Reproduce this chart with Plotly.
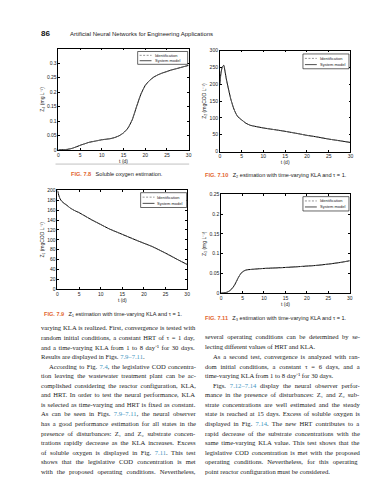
import re
import plotly.graph_objects as go

W, H = 389, 480

# ---------------- data ----------------
t_z4 = [0, 1, 2, 3, 4, 5, 6, 7, 8, 9, 10, 11, 12, 13, 14, 15, 16, 17, 18, 19, 20,
        21, 22, 23, 24, 25, 26, 27, 28, 29, 30]
z4 = [0.002, 0.002, 0.003, 0.006, 0.011, 0.017, 0.022, 0.027, 0.030, 0.033, 0.036,
      0.038, 0.040, 0.044, 0.050, 0.060, 0.076, 0.105, 0.150, 0.193, 0.223,
      0.240, 0.252, 0.260, 0.266, 0.271, 0.276, 0.280, 0.284, 0.288, 0.292]

t_z2 = [0, 0.3, 0.6, 0.9, 1.2, 1.5, 2, 2.5, 3, 3.5, 4, 4.5, 5, 6, 7, 8, 10, 12, 15,
        18, 20, 22, 25, 28, 30]
z2 = [200, 236, 252, 256, 238, 215, 185, 157, 135, 118, 106, 99, 94, 84, 78, 75,
      70, 66, 60, 53, 48, 44, 37, 31, 27]

t_z1 = [0, 0.3, 0.6, 1, 1.5, 2, 3, 4, 5, 6, 8, 10, 12, 15, 18, 20, 22, 25, 28, 30]
z1 = [200, 190, 183, 178, 174, 171, 164, 159, 155, 150, 140, 131, 122, 111, 100,
      93, 86, 73, 59, 50]

t_z3 = [0, 1, 1.5, 2, 2.5, 3, 3.5, 4, 4.5, 5, 5.5, 6, 7, 8, 10, 12, 15, 18, 20, 22,
        25, 28, 30]
z3 = [0, 0.001, 0.003, 0.006, 0.011, 0.018, 0.028, 0.039, 0.048, 0.054, 0.057,
      0.059, 0.060, 0.061, 0.0625, 0.0635, 0.065, 0.067, 0.0685, 0.070, 0.0735,
      0.078, 0.082]

x_ticks = [0, 5, 10, 15, 20, 25, 30]
z4_ticks = [0, 0.05, 0.1, 0.15, 0.2, 0.25, 0.3]
z2_ticks = [0, 50, 100, 150, 200, 250, 300]
z1_ticks = [0, 20, 40, 60, 80, 100, 120, 140, 160, 180, 200]
z3_ticks = [0, 0.05, 0.1, 0.15, 0.2, 0.25]

series_names = ["Identification", "System model"]

# ---------------- helpers ----------------
def X(px):
    return px / W

def Y(py):
    return 1 - py / H

SANS = "Liberation Sans, Arial, sans-serif"
SERIF = "Liberation Serif, Times New Roman, serif"
BLUE = "#3f97c2"
ORANGE = "#e2652f"

fig = go.Figure()

panels = [
    (t_z4, z4, "x", "y", (50, 181.5, 38, 141), [0, 0.35], z4_ticks,
     "Z\u2084 (mg L\u207b\u00b9)", (130, 180.5, 41, 54)),
    (t_z2, z2, "x2", "y2", (213, 345, 40, 142.3), [0, 300], z2_ticks,
     "Z\u2082 (mgCOD L\u207b\u00b9)", (297, 343.5, 43.5, 58.5)),
    (t_z1, z1, "x3", "y3", (49, 180, 181.7, 281.7), [0, 200], z1_ticks,
     "Z\u2081 (mgCOD L\u207b\u00b9)", (133, 179.5, 184, 199)),
    (t_z3, z3, "x4", "y4", (214.3, 344.3, 185.7, 285.7), [0, 0.25], z3_ticks,
     "Z\u2083 (mg L\u207b\u00b9)", (297, 343.5, 188, 202.5)),
]

shapes = []
annotations = []

for i, (t, y, xa, ya, box, yr, yt, ytitle, lg) in enumerate(panels):
    fig.add_trace(go.Scatter(x=t, y=y, xaxis=xa, yaxis=ya, mode="lines",
                             name=series_names[1], showlegend=False,
                             line=dict(color="black", width=1, shape="spline", smoothing=0.6)))
    fig.add_trace(go.Scatter(x=t, y=y, xaxis=xa, yaxis=ya, mode="lines",
                             name=series_names[0], showlegend=False,
                             line=dict(color="#777777", width=0.8, dash="3px,2px",
                                       shape="spline", smoothing=0.6)))
    x0, x1, ytop, ybot = box
    sfx = "" if i == 0 else str(i + 1)
    common = dict(showline=True, linecolor="black", linewidth=0.7, mirror="ticks",
                  ticks="inside", ticklen=2, tickwidth=0.6, tickcolor="black",
                  showgrid=False, zeroline=False,
                  tickfont=dict(family=SANS, size=5, color="#222"))
    fig.layout["xaxis" + sfx] = dict(
        domain=[X(x0), X(x1)], range=[0, 30], tickvals=x_ticks,
        anchor="y" + sfx,
        title=dict(text="t (d)", font=dict(family=SANS, size=5, color="#222"), standoff=1),
        **common)
    fig.layout["yaxis" + sfx] = dict(
        domain=[Y(ybot), Y(ytop)], range=yr, tickvals=yt,
        anchor="x" + sfx,
        title=dict(text=ytitle, font=dict(family=SANS, size=5, color="#222"), standoff=2),
        **common)

    lx0, lx1, ly0, ly1 = lg
    shapes.append(dict(type="rect", xref="paper", yref="paper",
                       x0=X(lx0), x1=X(lx1), y0=Y(ly1), y1=Y(ly0),
                       line=dict(color="black", width=0.6), fillcolor="white"))
    rows = [ly0 + (ly1 - ly0) * 0.3, ly0 + (ly1 - ly0) * 0.72]
    for k, (nm, dash, col) in enumerate([(series_names[0], "2px,1.5px", "#666"),
                                         (series_names[1], "solid", "black")]):
        shapes.append(dict(type="line", xref="paper", yref="paper",
                           x0=X(lx0 + 2), x1=X(lx0 + 14), y0=Y(rows[k]), y1=Y(rows[k]),
                           line=dict(color=col, width=0.7, dash=dash)))
        annotations.append(dict(xref="paper", yref="paper", x=X(lx0 + 15), y=Y(rows[k]),
                                text=nm, showarrow=False, xanchor="left", yanchor="middle",
                                font=dict(family=SANS, size=4, color="#222")))

shapes.append(dict(type="line", xref="paper", yref="paper", x0=X(47), x1=X(182),
                   y0=Y(155), y1=Y(155), line=dict(color="#999", width=0.6)))

# ---------------- page text ----------------
def ann(px, py, text, size, family, color="#222", anchor="left"):
    annotations.append(dict(xref="paper", yref="paper", x=X(px), y=Y(py), text=text,
                            showarrow=False, xanchor=anchor, yanchor="middle",
                            font=dict(family=family, size=size, color=color)))

ann(30, 23, "<b>86</b>", 8, SANS, "#111")
ann(60, 23, "Artificial Neural Networks for Engineering Applications", 6, SANS, "#222")

def fig_caption(num, rest):
    return f"<span style='color:{ORANGE}'><b>FIG. {num}</b></span>\u2002 {rest}"

ann(61, 165.5, fig_caption("7.8", "Soluble oxygen estimation."), 5.6, SANS)
ann(196, 166.5, fig_caption("7.10", "Z\u2082 estimation with time-varying KLA and \u03c4 = 1."), 5.6, SANS)
ann(33, 307, fig_caption("7.9", "Z\u2081 estimation with time-varying KLA and \u03c4 = 1."), 5.6, SANS)
ann(196, 311, fig_caption("7.11", "Z\u2083 estimation with time-varying KLA and \u03c4 = 1."), 5.6, SANS)

def ref(s):
    return f"<span style='color:{BLUE}'>{s}</span>"

# approximate Times / Liberation Serif advance widths (1/1000 em)
TW = {" ": 250, ",": 250, ".": 250, ":": 278, ";": 278, "-": 333, "=": 564,
      "(": 333, ")": 333, "\u2013": 500, "\u03c4": 440, "\u2081": 400, "\u2082": 400,
      "\u207b": 420, "\u00b9": 300}
TW.update({d: 500 for d in "0123456789"})
TW.update(dict(zip("ABCDEFGHIJKLMNOPQRSTUVWXYZ",
                   [722, 667, 667, 722, 611, 556, 722, 722, 333, 389, 722, 611, 889,
                    722, 722, 556, 722, 667, 556, 611, 722, 722, 944, 722, 722, 611])))
TW.update(dict(zip("abcdefghijklmnopqrstuvwxyz",
                   [444, 500, 444, 500, 444, 333, 500, 500, 278, 278, 500, 278, 778,
                    500, 500, 500, 500, 333, 389, 278, 500, 500, 722, 500, 500, 444])))

BODY = 6.6
COL_W = 155
INDENT = 8

def justified(html, x0, py, indent, justify):
    plain = re.sub(r"<[^>]+>", "", html)
    natural = sum(TW.get(c, 500) for c in plain) * BODY / 1000
    nsp = plain.count(" ")
    ws = (COL_W - indent - natural) / nsp if (justify and nsp) else 0
    ws = max(min(ws, 2.5), -1.2)
    ann(x0 + indent, py, f"<span style='word-spacing:{ws:.2f}px'>{html}</span>",
        BODY, SERIF, "#1a1a1a")

# (text, paragraph-indent, justified)
left_lines = [
    ("varying KLA is realized. First, convergence is tested with", 0, True),
    ("random initial conditions, a constant HRT of \u03c4 = 1 day,", 0, True),
    ("and a time-varying KLA from 1 to 8 day\u207b\u00b9 for 30 days.", 0, True),
    ("Results are displayed in Figs. " + ref("7.9\u20137.11") + ".", 0, False),
    ("According to Fig. " + ref("7.4") + ", the legislative COD concentra-", INDENT, True),
    ("tion leaving the wastewater treatment plant can be ac-", 0, True),
    ("complished considering the reactor configuration, KLA,", 0, True),
    ("and HRT. In order to test the neural performance, KLA", 0, True),
    ("is selected as time-varying and HRT is fixed as constant.", 0, True),
    ("As can be seen in Figs. " + ref("7.9\u20137.11") + ", the neural observer", 0, True),
    ("has a good performance estimation for all states in the", 0, True),
    ("presence of disturbances: Z\u2081 and Z\u2082 substrate concen-", 0, True),
    ("trations rapidly decrease as the KLA increases. Excess", 0, True),
    ("of soluble oxygen is displayed in Fig. " + ref("7.11") + ". This test", 0, True),
    ("shows that the legislative COD concentration is met", 0, True),
    ("with the proposed operating conditions. Nevertheless,", 0, True),
]
right_lines = [
    ("several operating conditions can be determined by se-", 0, True),
    ("lecting different values of HRT and KLA.", 0, False),
    ("As a second test, convergence is analyzed with ran-", INDENT, True),
    ("dom initial conditions, a constant \u03c4 = 6 days, and a", 0, True),
    ("time-varying KLA from 1 to 8 day\u207b\u00b9 for 30 days.", 0, False),
    ("Figs. " + ref("7.12\u20137.14") + " display the neural observer perfor-", INDENT, True),
    ("mance in the presence of disturbances: Z\u2081 and Z\u2082 sub-", 0, True),
    ("strate concentrations are well estimated and the steady", 0, True),
    ("state is reached at 15 days. Excess of soluble oxygen is", 0, True),
    ("displayed in Fig. " + ref("7.14") + ". The new HRT contributes to a", 0, True),
    ("rapid decrease of the substrate concentrations with the", 0, True),
    ("same time-varying KLA value. This test shows that the", 0, True),
    ("legislative COD concentration is met with the proposed", 0, True),
    ("operating conditions. Nevertheless, for this operating", 0, True),
    ("point reactor configuration must be considered.", 0, False),
]

for i, (line, ind, jus) in enumerate(left_lines):
    justified(line, 30, 321 + i * 9.67, ind, jus)
for i, (line, ind, jus) in enumerate(right_lines):
    py = 330 + i * 9.5 if i < 2 else 350 + (i - 2) * 9.67
    justified(line, 196, py, ind, jus)

fig.update_layout(width=W, height=H, margin=dict(l=0, r=0, t=0, b=0),
                  paper_bgcolor="white", plot_bgcolor="white",
                  showlegend=False, shapes=shapes, annotations=annotations)

fig.write_html("out.html")
